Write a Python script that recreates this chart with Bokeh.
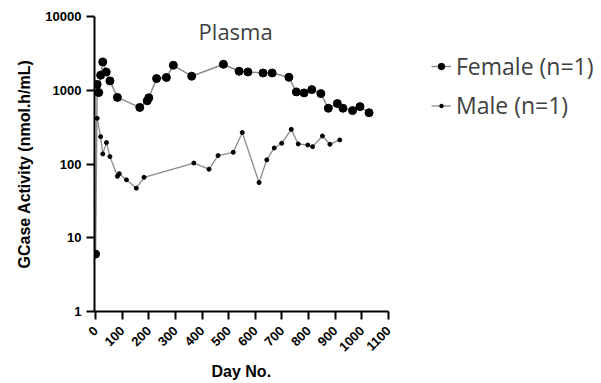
import math
from bokeh.plotting import figure
from bokeh.models import (FixedTicker, PrintfTickFormatter, Legend, LegendItem,
                          Label, Range1d, Title)
from bokeh.embed import file_html
from bokeh.resources import INLINE

# ---- data ----
female_day = [0, 6, 12, 19, 27, 40, 54, 82, 166, 194, 200, 229, 266, 292, 361,
              480, 539, 572, 629, 663, 726, 754, 783, 812, 846, 874, 908, 929,
              965, 993, 1027]
female_val = [6, 1200, 930, 1600, 2420, 1770, 1340, 800, 585, 720, 790, 1440,
              1490, 2180, 1550, 2250, 1810, 1770, 1715, 1715, 1500, 950, 920,
              1020, 900, 570, 660, 570, 530, 600, 495]

male_day = [6, 19, 27, 41, 54, 82, 89, 116, 153, 182, 369, 426, 460, 517, 551,
            614, 643, 671, 699, 735, 761, 797, 815, 852, 880, 917]
male_val = [416, 235, 137, 195, 126, 68, 74, 61, 47, 66, 103, 85, 130, 144,
            267, 56, 114, 165, 191, 295, 187, 181, 172, 240, 185, 212]

x_ticks = [0, 100, 200, 300, 400, 500, 600, 700, 800, 900, 1000, 1100]
y_ticks = [1, 10, 100, 1000, 10000]

title_text = "Plasma"
female_label = "Female (n=1)"
male_label = "Male (n=1)"
x_title = "Day No."
y_title = "GCase Activity (nmol.h/mL)"

TXT = "#404040"
LINE = "#8c8c8c"

W, H = 600, 382
LEFT, RIGHT, TOP, BOTTOM = 94, 2, 16, 70
axis_px = 294                     # pixel length of the 0..1100 axis
x0, x1 = -4, 1100
frame_w = W - LEFT - RIGHT
x_end = x0 + (x1 - x0) * frame_w / axis_px

p = figure(width=W, height=H, output_backend="svg", toolbar_location=None,
           y_axis_type="log", x_range=Range1d(x0, x_end),
           y_range=Range1d(1, 10000),
           min_border_left=LEFT, min_border_right=RIGHT, min_border_top=TOP,
           min_border_bottom=BOTTOM)
p.outline_line_color = None
p.grid.visible = False
p.background_fill_color = "white"

fl = p.line(female_day, female_val, line_color=LINE, line_width=1.5)
fs = p.scatter(female_day, female_val, size=8, fill_color="black",
               line_color="black")
ml = p.line(male_day, male_val, line_color=LINE, line_width=1.3)
ms = p.scatter(male_day, male_val, size=4, fill_color="black",
               line_color="black")

for ax in (p.xaxis[0], p.yaxis[0]):
    ax.axis_line_width = 2
    ax.axis_line_color = "black"
    ax.major_tick_line_width = 2
    ax.major_tick_line_color = "black"
    ax.major_tick_out = 8
    ax.major_tick_in = 0
    ax.minor_tick_line_color = None
    ax.major_label_text_font = "Liberation Sans"
    ax.major_label_text_font_style = "bold"
    ax.major_label_text_font_size = "13px"
    ax.major_label_text_color = "black"
    ax.axis_label_text_font = "Liberation Sans"
    ax.axis_label_text_font_style = "bold"
    ax.axis_label_text_font_size = "16px"
    ax.axis_label_text_color = "black"

p.xaxis.ticker = FixedTicker(ticks=x_ticks)
p.xaxis.bounds = (x0, x1)
p.xaxis.major_label_orientation = math.pi / 4
p.xaxis.major_label_standoff = 9

p.yaxis.ticker = FixedTicker(ticks=y_ticks)
p.yaxis.formatter = PrintfTickFormatter(format="%d")
p.yaxis.axis_label = y_title
p.yaxis.major_label_standoff = 5
p.yaxis.axis_label_standoff = 9

# x-axis title, centred under the 0..1100 axis rather than the whole frame
p.add_layout(Title(text=x_title, align="left", offset=117, standoff=5,
                   text_font="Liberation Sans", text_font_style="bold",
                   text_font_size="16px", text_color="black"), "below")

p.add_layout(Label(x=526, y=6400, text=title_text, text_font="Open Sans",
                   text_font_size="22px", text_color=TXT,
                   text_align="center", text_baseline="middle"))

common = dict(orientation="vertical", label_text_font="Open Sans",
              label_text_font_size="23px", label_text_color=TXT,
              glyph_width=20, label_standoff=5, padding=0, margin=0,
              border_line_alpha=0, background_fill_alpha=0)
leg_f = Legend(items=[LegendItem(label=female_label, renderers=[fl, fs])],
               location=(337, 229), glyph_height=16, **common)
leg_m = Legend(items=[LegendItem(label=male_label, renderers=[ml, ms])],
               location=(337, 190), glyph_height=9, **common)
p.add_layout(leg_f)
p.add_layout(leg_m)

open("out.html", "w").write(file_html(p, INLINE))
